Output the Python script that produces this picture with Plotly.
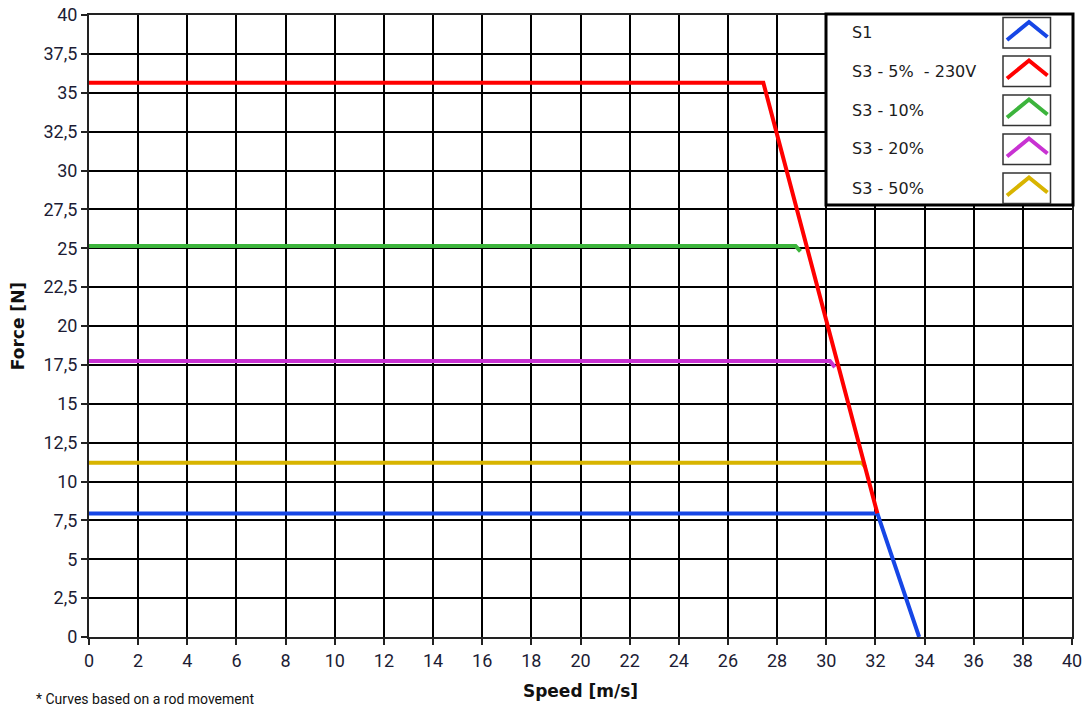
import plotly.graph_objects as go

# ---- data ----
series_names = ["S1", "S3 - 5%  - 230V", "S3 - 10%", "S3 - 20%", "S3 - 50%"]
series_colors = ["#1646e6", "#ff0000", "#3cb43c", "#c832d2", "#d8b400"]

s1_speed = [0, 32.08, 33.78]
s1_force = [7.95, 7.95, 0]
s3_5_speed = [0, 27.44, 32.08]
s3_5_force = [35.65, 35.65, 7.95]
s3_10_speed = [0, 28.75, 28.95]
s3_10_force = [25.15, 25.15, 24.8]
s3_20_speed = [0, 30.15, 30.35]
s3_20_force = [17.75, 17.75, 17.35]
s3_50_speed = [0, 31.45, 31.6]
s3_50_force = [11.2, 11.2, 10.9]

x_tickvals = list(range(0, 41, 2))
x_ticktext = [str(v) for v in x_tickvals]
y_tickvals = [i * 2.5 for i in range(17)]
y_ticktext = [("%g" % v).replace(".", ",") for v in y_tickvals]

x_title = "Speed [m/s]"
y_title = "Force [N]"
footnote = "* Curves based on a rod movement"

# ---- figure ----
W, H = 1087, 708
L, R, T, B = 89, 15, 15, 71
PW, PH = W - L - R, H - T - B

def px(x):
    return (x - L) / PW

def py(y):
    return (H - B - y) / PH

tick_font = dict(family="Roboto, Liberation Sans, sans-serif", size=18, color="#1c1c34")
title_font = dict(family="DejaVu Sans, Verdana, sans-serif", size=17, color="#111111")

fig = go.Figure()
data = {
    "S1": (s1_speed, s1_force),
    "S3 - 5%  - 230V": (s3_5_speed, s3_5_force),
    "S3 - 10%": (s3_10_speed, s3_10_force),
    "S3 - 20%": (s3_20_speed, s3_20_force),
    "S3 - 50%": (s3_50_speed, s3_50_force),
}
draw_order = ["S3 - 50%", "S3 - 20%", "S3 - 10%", "S1", "S3 - 5%  - 230V"]
for name in draw_order:
    xs, ys = data[name]
    c = series_colors[series_names.index(name)]
    fig.add_trace(go.Scatter(x=xs, y=ys, mode="lines", name=name,
                             line=dict(color=c, width=4), showlegend=False,
                             cliponaxis=False))

axis_common = dict(showgrid=True, gridcolor="#000000", gridwidth=1.5,
                   showline=True, linecolor="#222222", linewidth=2, mirror=True,
                   ticks="outside", ticklen=6, tickwidth=1.5, tickcolor="#222222",
                   tickfont=tick_font, zeroline=False, fixedrange=True,
                   automargin=False)

fig.update_xaxes(range=[0, 40], tickvals=x_tickvals, ticktext=x_ticktext,
                 title=dict(text="<b>" + x_title + "</b>", font=title_font, standoff=16),
                 **axis_common)
fig.update_yaxes(range=[0, 40], tickvals=y_tickvals, ticktext=y_ticktext,
                 title=dict(text="<b>" + y_title + "</b>", font=title_font, standoff=15),
                 **axis_common)

# ---- custom legend (text left, chevron icon right) ----
shapes = []
annotations = []
shapes.append(dict(type="rect", xref="paper", yref="paper",
                   x0=px(826), x1=px(1073), y0=py(205), y1=py(14),
                   fillcolor="white", line=dict(color="black", width=3), layer="above"))
row_tops = [17.5, 56, 95, 134, 173]
for i, name in enumerate(series_names):
    top = row_tops[i]
    bot = top + 30.5
    shapes.append(dict(type="rect", xref="paper", yref="paper",
                       x0=px(1003), x1=px(1050.5), y0=py(bot), y1=py(top),
                       fillcolor="white", line=dict(color="#333333", width=1.5), layer="above"))
    p = "M {:.5f} {:.5f} L {:.5f} {:.5f} L {:.5f} {:.5f}".format(
        px(1007), py(top + 22.5), px(1029), py(top + 4.5), px(1047.5), py(top + 19.5))
    shapes.append(dict(type="path", xref="paper", yref="paper", path=p,
                       line=dict(color=series_colors[i], width=4), layer="above"))
    annotations.append(dict(text=name, xref="paper", yref="paper",
                            x=px(850), y=py(top + 15), xanchor="left", yanchor="middle",
                            showarrow=False,
                            font=dict(family="DejaVu Sans, Verdana, sans-serif", size=16, color="#1c1c1c")))

annotations.append(dict(text=footnote, xref="paper", yref="paper",
                        x=px(34), y=py(699), xanchor="left", yanchor="middle", showarrow=False,
                        font=dict(family="Roboto, Liberation Sans, sans-serif",
                                  size=14, color="#111111")))

fig.update_layout(width=W, height=H, margin=dict(l=L, r=R, t=T, b=B, pad=0),
                  plot_bgcolor="white", paper_bgcolor="white",
                  shapes=shapes, annotations=annotations, showlegend=False)

fig.write_html("out.html", config={"displayModeBar": False},
               post_script="document.body.style.margin='0';document.body.style.overflow='hidden';")
